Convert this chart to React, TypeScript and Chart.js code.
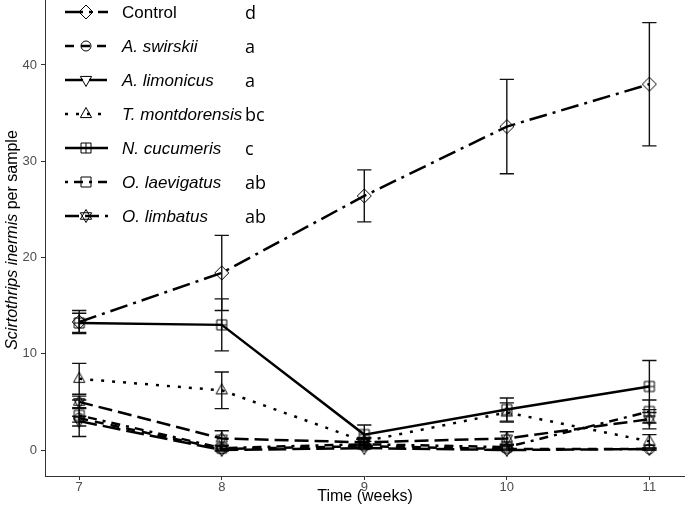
import { useEffect, useRef } from "react";
import { Chart, registerables } from "chart.js";
Chart.register(...registerables);

const weeks = [7, 8, 9, 10, 11];
const yTicks = [0, 10, 20, 30, 40];
const seriesNames = ["Control", "A. swirskii", "A. limonicus", "T. montdorensis", "N. cucumeris", "O. laevigatus", "O. limbatus"];
const letters = ["d", "a", "a", "bc", "c", "ab", "ab"];

const controlMean = [13.3, 18.4, 26.4, 33.6, 38.0];
const controlSe = [1.2, 3.9, 2.7, 4.9, 6.4];
const swirskiiMean = [3.3, 0.1, 0.4, 0.1, 0.1];
const swirskiiSe = [1.9, 0.1, 0.2, 0.1, 0.1];
const limonicusMean = [3.0, 0.0, 0.2, 0.0, 0.1];
const limonicusSe = [0.5, 0.0, 0.1, 0.0, 0.1];
const montdorensisMean = [7.4, 6.2, 0.9, 3.9, 0.9];
const montdorensisSe = [1.6, 1.9, 0.4, 1.0, 0.7];
const cucumerisMean = [13.2, 13.0, 1.6, 4.2, 6.6];
const cucumerisSe = [1.0, 2.7, 1.0, 1.2, 2.7];
const laevigatusMean = [3.6, 0.2, 0.6, 0.3, 4.0];
const laevigatusSe = [0.7, 0.3, 0.3, 0.3, 1.2];
const limbatusMean = [5.0, 1.2, 0.8, 1.2, 3.2];
const limbatusSe = [0.6, 0.8, 0.4, 0.7, 1.0];

const means = [controlMean, swirskiiMean, limonicusMean, montdorensisMean, cucumerisMean, laevigatusMean, limbatusMean];
const ses = [controlSe, swirskiiSe, limonicusSe, montdorensisSe, cucumerisSe, laevigatusSe, limbatusSe];
const dashes = [[18, 6, 3, 6], [9, 7], [18, 6], [3, 8], [], [3, 6, 9, 6], [14, 6]];
const shapes = ["diamond", "circle", "triDown", "triUp", "squarePlus", "square", "hexagram"];

function makeMarker(kind: string): HTMLCanvasElement {
  const s = 18;
  const c = document.createElement("canvas");
  c.width = s;
  c.height = s;
  const ctx = c.getContext("2d")!;
  ctx.strokeStyle = "#000";
  ctx.lineWidth = 1;
  const m = s / 2;
  ctx.beginPath();
  if (kind === "diamond") {
    const r = 7;
    ctx.moveTo(m, m - r); ctx.lineTo(m + r, m); ctx.lineTo(m, m + r); ctx.lineTo(m - r, m); ctx.closePath();
  } else if (kind === "circle") {
    ctx.arc(m, m, 5, 0, Math.PI * 2);
  } else if (kind === "triUp" || kind === "triDown") {
    const r = 6.5;
    const d = kind === "triUp" ? 1 : -1;
    ctx.moveTo(m, m - d * r); ctx.lineTo(m + r * 0.87, m + d * r * 0.55); ctx.lineTo(m - r * 0.87, m + d * r * 0.55); ctx.closePath();
  } else if (kind === "square" || kind === "squarePlus") {
    const h = 5;
    ctx.rect(m - h, m - h, 2 * h, 2 * h);
    if (kind === "squarePlus") {
      ctx.moveTo(m, m - h); ctx.lineTo(m, m + h);
      ctx.moveTo(m - h, m); ctx.lineTo(m + h, m);
    }
  } else if (kind === "hexagram") {
    const r = 6.5;
    for (const d of [1, -1]) {
      ctx.moveTo(m, m - d * r); ctx.lineTo(m + r * 0.87, m + d * r * 0.5); ctx.lineTo(m - r * 0.87, m + d * r * 0.5); ctx.closePath();
    }
  }
  ctx.stroke();
  return c;
}

export default function App() {
  const ref = useRef<HTMLCanvasElement | null>(null);
  useEffect(() => {
    document.body.style.margin = "0";
    const markers = shapes.map(makeMarker);
    const errorBars = {
      id: "errorBars",
      beforeDatasetsDraw(chart: any) {
        const ctx = chart.ctx;
        const xs = chart.scales.x;
        const ys = chart.scales.y;
        ctx.save();
        ctx.strokeStyle = "#111";
        ctx.lineWidth = 1.4;
        means.forEach((mv, i) => {
          mv.forEach((v, j) => {
            const e = ses[i][j];
            if (e <= 0) return;
            const x = xs.getPixelForValue(weeks[j]);
            const x0 = xs.getPixelForValue(weeks[j] - 0.05);
            const x1 = xs.getPixelForValue(weeks[j] + 0.05);
            const yl = ys.getPixelForValue(v - e);
            const yh = ys.getPixelForValue(v + e);
            ctx.beginPath();
            ctx.moveTo(x, yl); ctx.lineTo(x, yh);
            ctx.moveTo(x0, yl); ctx.lineTo(x1, yl);
            ctx.moveTo(x0, yh); ctx.lineTo(x1, yh);
            ctx.stroke();
          });
        });
        ctx.restore();
      },
    };
    const decorations = {
      id: "decorations",
      afterDraw(chart: any) {
        const ctx = chart.ctx;
        ctx.save();
        seriesNames.forEach((name, i) => {
          const y = 12 + i * 34;
          ctx.strokeStyle = "#000";
          ctx.lineWidth = 2.5;
          ctx.setLineDash(dashes[i]);
          ctx.beginPath();
          ctx.moveTo(65, y); ctx.lineTo(108, y);
          ctx.stroke();
          ctx.setLineDash([]);
          ctx.drawImage(markers[i], 86 - 9, y - 9);
          ctx.fillStyle = "#000";
          ctx.textBaseline = "middle";
          ctx.textAlign = "left";
          ctx.font = (i === 0 ? "" : "italic ") + "17px 'Liberation Sans', Arial, sans-serif";
          ctx.fillText(name, 122, y + 1);
          ctx.font = "18px 'Open Sans', sans-serif";
          ctx.fillText(letters[i], 245, y + 2);
        });
        ctx.fillStyle = "#000";
        ctx.font = "16px 'Liberation Sans', Arial, sans-serif";
        ctx.textAlign = "center";
        ctx.textBaseline = "middle";
        ctx.fillText("Time (weeks)", 365, 497);
        const it = "Scirtothrips inermis";
        const nt = " per sample";
        ctx.font = "italic 16px 'Liberation Sans', Arial, sans-serif";
        const w1 = ctx.measureText(it).width;
        ctx.font = "16px 'Liberation Sans', Arial, sans-serif";
        const w2 = ctx.measureText(nt).width;
        ctx.translate(13, 240);
        ctx.rotate(-Math.PI / 2);
        ctx.textAlign = "left";
        const start = -(w1 + w2) / 2;
        ctx.font = "italic 16px 'Liberation Sans', Arial, sans-serif";
        ctx.fillText(it, start, 0);
        ctx.font = "16px 'Liberation Sans', Arial, sans-serif";
        ctx.fillText(nt, start + w1, 0);
        ctx.restore();
      },
    };
    const chart = new Chart(ref.current!, {
      type: "line",
      data: {
        datasets: seriesNames.map((name, i) => ({
          label: name,
          data: weeks.map((w, j) => ({ x: w, y: means[i][j] })),
          borderColor: "#000",
          borderWidth: 2.5,
          borderDash: dashes[i],
          pointStyle: markers[i] as any,
          pointRadius: 7,
          fill: false,
          tension: 0,
        })),
      },
      options: {
        animation: false,
        responsive: false,
        layout: { padding: 0, autoPadding: false },
        plugins: { legend: { display: false }, tooltip: { enabled: false } },
        scales: {
          x: {
            type: "linear",
            min: 6.76,
            max: 11.25,
            afterBuildTicks: (s: any) => { s.ticks = weeks.map((v) => ({ value: v })); },
            afterFit: (s: any) => { s.height = 34; s.paddingLeft = 0; s.paddingRight = 0; },
            border: { display: true, color: "#333", width: 1 },
            grid: { display: true, drawOnChartArea: false, drawTicks: true, tickLength: 4, color: "#333" },
            ticks: { color: "#4d4d4d", font: { size: 13, family: "'Liberation Sans', Arial, sans-serif" }, padding: 0, maxRotation: 0 },
          },
          y: {
            min: -2.7,
            max: 46.75,
            afterBuildTicks: (s: any) => { s.ticks = yTicks.map((v) => ({ value: v })); },
            afterFit: (s: any) => { s.width = 45; s.paddingTop = 0; s.paddingBottom = 0; },
            border: { display: true, color: "#333", width: 1 },
            grid: { display: true, drawOnChartArea: false, drawTicks: true, tickLength: 4, color: "#333" },
            ticks: { color: "#4d4d4d", font: { size: 13, family: "'Liberation Sans', Arial, sans-serif" }, padding: 4 },
          },
        },
      },
      plugins: [errorBars, decorations],
    });
    return () => chart.destroy();
  }, []);
  return <canvas ref={ref} width={685} height={510} style={{ display: "block" }} />;
}
